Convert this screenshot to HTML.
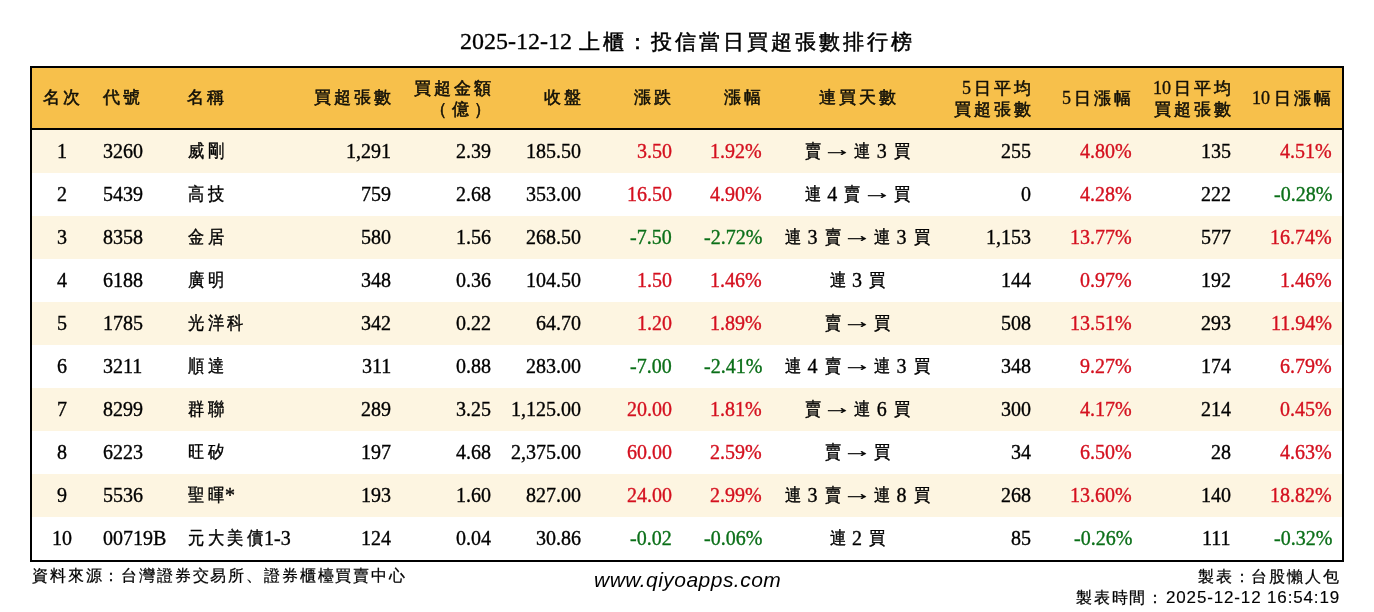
<!DOCTYPE html>
<html><head><meta charset="utf-8"><style>
html,body{margin:0;padding:0;background:#fff;width:1374px;height:612px;overflow:hidden;position:relative}
body{font-family:"Liberation Serif",serif;color:#000}
.title{-webkit-text-stroke:0.3px #000;will-change:transform;position:absolute;left:0;width:1374px;top:26px;text-align:center;font-size:24px;line-height:30px}
.tbl{position:absolute;left:30px;top:66px;width:1310px;height:492px;border:2px solid #000}
.hdr{position:absolute;left:30px;top:66px;width:1314px;height:64px}
.hfill{position:absolute;left:32px;top:68px;width:1310px;height:60px;background:#F7C04B}
.hline{position:absolute;left:30px;top:128px;width:1314px;height:2px;background:#000}
.row{position:absolute;left:32px;width:1310px;height:43px}
.cream{background:#FDF5E1}
.c{position:absolute;white-space:nowrap;will-change:transform}
.h{font-size:17px;letter-spacing:3px;color:#121008;-webkit-text-stroke:0.55px #121008}
.hd{font-size:18px;letter-spacing:0;margin-right:3px;-webkit-text-stroke:0.35px #1a1208}
.h1{top:68px;height:60px;line-height:60px}
.h2{top:78px;line-height:21px}
.d{font-size:20px;line-height:43px;-webkit-text-stroke:0.35px currentColor}
.r{color:#D4101F}.g{color:#0B6F18}
.d .k{font-size:18px;display:inline-block;width:19.5px;text-align:center;transform:translateY(-1px) scaleX(0.9);-webkit-text-stroke:0.4px #000}
.tk{font-size:21px;display:inline-block;width:24px;text-align:center;-webkit-text-stroke:0.5px #000}
.arr{display:inline-block;transform:translateY(-2px) scaleX(1.5)}
.foot{position:absolute;font-size:16px;white-space:nowrap;will-change:transform;-webkit-text-stroke:0.25px #000}
</style></head><body>
<div class="title">2025-12-12 <span class="tk">上</span><span class="tk">櫃</span><span class="tk">：</span><span class="tk">投</span><span class="tk">信</span><span class="tk">當</span><span class="tk">日</span><span class="tk">買</span><span class="tk">超</span><span class="tk">張</span><span class="tk">數</span><span class="tk">排</span><span class="tk">行</span><span class="tk">榜</span></div>
<div class="hfill"></div>

<div class="row cream" style="top:130px"></div>
<div class="row" style="top:173px"></div>
<div class="row cream" style="top:216px"></div>
<div class="row" style="top:259px"></div>
<div class="row cream" style="top:302px"></div>
<div class="row" style="top:345px"></div>
<div class="row cream" style="top:388px"></div>
<div class="row" style="top:431px"></div>
<div class="row cream" style="top:474px"></div>
<div class="row" style="top:517px"></div>
<div class="tbl"></div><div class="hline"></div>
<div class="c h h1" style="left:-87.5px;width:300px;text-align:center">名次</div>
<div class="c h h1" style="left:103px">代號</div>
<div class="c h h1" style="left:187px">名稱</div>
<div class="c h h1" style="margin-right:-3px;right:983px;text-align:right">買超張數</div>
<div class="c h h2" style="margin-right:-3px;right:883px;text-align:right">買超金額<br><span style="margin-right:-3px;letter-spacing:5px;margin-right:-2px">（億）</span></div>
<div class="c h h1" style="margin-right:-3px;right:793.5px;text-align:right">收盤</div>
<div class="c h h1" style="margin-right:-3px;right:703px;text-align:right">漲跌</div>
<div class="c h h1" style="margin-right:-3px;right:613px;text-align:right">漲幅</div>
<div class="c h h1" style="left:708.5px;width:300px;text-align:center">連買天數</div>
<div class="c h h2" style="margin-right:-3px;right:343px;text-align:right"><span class="hd">5</span>日平均<br>買超張數</div>
<div class="c h h1" style="margin-right:-3px;right:243.5px;text-align:right"><span class="hd">5</span>日漲幅</div>
<div class="c h h2" style="margin-right:-3px;right:143px;text-align:right"><span class="hd">10</span>日平均<br>買超張數</div>
<div class="c h h1" style="margin-right:-3px;right:43px;text-align:right"><span class="hd" style="margin-right:-3px;margin-right:4px">10</span>日漲幅</div>
<div class="c d " style="top:130px;left:-88px;width:300px;text-align:center">1</div>
<div class="c d " style="top:130px;left:103px">3260</div>
<div class="c d " style="top:130px;left:186px"><span class="k">威</span><span class="k">剛</span></div>
<div class="c d " style="top:130px;right:983px;text-align:right">1,291</div>
<div class="c d " style="top:130px;right:883px;text-align:right">2.39</div>
<div class="c d " style="top:130px;right:793px;text-align:right">185.50</div>
<div class="c d r" style="top:130px;right:702px;text-align:right">3.50</div>
<div class="c d r" style="top:130px;right:612px;text-align:right">1.92%</div>
<div class="c d " style="top:130px;left:707px;width:300px;text-align:center"><span class="k">賣</span> <span class="arr">→</span> <span class="k">連</span> 3 <span class="k">買</span></div>
<div class="c d " style="top:130px;right:343px;text-align:right">255</div>
<div class="c d r" style="top:130px;right:242px;text-align:right">4.80%</div>
<div class="c d " style="top:130px;right:143px;text-align:right">135</div>
<div class="c d r" style="top:130px;right:42px;text-align:right">4.51%</div>
<div class="c d " style="top:173px;left:-88px;width:300px;text-align:center">2</div>
<div class="c d " style="top:173px;left:103px">5439</div>
<div class="c d " style="top:173px;left:186px"><span class="k">高</span><span class="k">技</span></div>
<div class="c d " style="top:173px;right:983px;text-align:right">759</div>
<div class="c d " style="top:173px;right:883px;text-align:right">2.68</div>
<div class="c d " style="top:173px;right:793px;text-align:right">353.00</div>
<div class="c d r" style="top:173px;right:702px;text-align:right">16.50</div>
<div class="c d r" style="top:173px;right:612px;text-align:right">4.90%</div>
<div class="c d " style="top:173px;left:707px;width:300px;text-align:center"><span class="k">連</span> 4 <span class="k">賣</span> <span class="arr">→</span> <span class="k">買</span></div>
<div class="c d " style="top:173px;right:343px;text-align:right">0</div>
<div class="c d r" style="top:173px;right:242px;text-align:right">4.28%</div>
<div class="c d " style="top:173px;right:143px;text-align:right">222</div>
<div class="c d g" style="top:173px;right:42px;text-align:right">-0.28%</div>
<div class="c d " style="top:216px;left:-88px;width:300px;text-align:center">3</div>
<div class="c d " style="top:216px;left:103px">8358</div>
<div class="c d " style="top:216px;left:186px"><span class="k">金</span><span class="k">居</span></div>
<div class="c d " style="top:216px;right:983px;text-align:right">580</div>
<div class="c d " style="top:216px;right:883px;text-align:right">1.56</div>
<div class="c d " style="top:216px;right:793px;text-align:right">268.50</div>
<div class="c d g" style="top:216px;right:702px;text-align:right">-7.50</div>
<div class="c d g" style="top:216px;right:612px;text-align:right">-2.72%</div>
<div class="c d " style="top:216px;left:707px;width:300px;text-align:center"><span class="k">連</span> 3 <span class="k">賣</span> <span class="arr">→</span> <span class="k">連</span> 3 <span class="k">買</span></div>
<div class="c d " style="top:216px;right:343px;text-align:right">1,153</div>
<div class="c d r" style="top:216px;right:242px;text-align:right">13.77%</div>
<div class="c d " style="top:216px;right:143px;text-align:right">577</div>
<div class="c d r" style="top:216px;right:42px;text-align:right">16.74%</div>
<div class="c d " style="top:259px;left:-88px;width:300px;text-align:center">4</div>
<div class="c d " style="top:259px;left:103px">6188</div>
<div class="c d " style="top:259px;left:186px"><span class="k">廣</span><span class="k">明</span></div>
<div class="c d " style="top:259px;right:983px;text-align:right">348</div>
<div class="c d " style="top:259px;right:883px;text-align:right">0.36</div>
<div class="c d " style="top:259px;right:793px;text-align:right">104.50</div>
<div class="c d r" style="top:259px;right:702px;text-align:right">1.50</div>
<div class="c d r" style="top:259px;right:612px;text-align:right">1.46%</div>
<div class="c d " style="top:259px;left:707px;width:300px;text-align:center"><span class="k">連</span> 3 <span class="k">買</span></div>
<div class="c d " style="top:259px;right:343px;text-align:right">144</div>
<div class="c d r" style="top:259px;right:242px;text-align:right">0.97%</div>
<div class="c d " style="top:259px;right:143px;text-align:right">192</div>
<div class="c d r" style="top:259px;right:42px;text-align:right">1.46%</div>
<div class="c d " style="top:302px;left:-88px;width:300px;text-align:center">5</div>
<div class="c d " style="top:302px;left:103px">1785</div>
<div class="c d " style="top:302px;left:186px"><span class="k">光</span><span class="k">洋</span><span class="k">科</span></div>
<div class="c d " style="top:302px;right:983px;text-align:right">342</div>
<div class="c d " style="top:302px;right:883px;text-align:right">0.22</div>
<div class="c d " style="top:302px;right:793px;text-align:right">64.70</div>
<div class="c d r" style="top:302px;right:702px;text-align:right">1.20</div>
<div class="c d r" style="top:302px;right:612px;text-align:right">1.89%</div>
<div class="c d " style="top:302px;left:707px;width:300px;text-align:center"><span class="k">賣</span> <span class="arr">→</span> <span class="k">買</span></div>
<div class="c d " style="top:302px;right:343px;text-align:right">508</div>
<div class="c d r" style="top:302px;right:242px;text-align:right">13.51%</div>
<div class="c d " style="top:302px;right:143px;text-align:right">293</div>
<div class="c d r" style="top:302px;right:42px;text-align:right">11.94%</div>
<div class="c d " style="top:345px;left:-88px;width:300px;text-align:center">6</div>
<div class="c d " style="top:345px;left:103px">3211</div>
<div class="c d " style="top:345px;left:186px"><span class="k">順</span><span class="k">達</span></div>
<div class="c d " style="top:345px;right:983px;text-align:right">311</div>
<div class="c d " style="top:345px;right:883px;text-align:right">0.88</div>
<div class="c d " style="top:345px;right:793px;text-align:right">283.00</div>
<div class="c d g" style="top:345px;right:702px;text-align:right">-7.00</div>
<div class="c d g" style="top:345px;right:612px;text-align:right">-2.41%</div>
<div class="c d " style="top:345px;left:707px;width:300px;text-align:center"><span class="k">連</span> 4 <span class="k">賣</span> <span class="arr">→</span> <span class="k">連</span> 3 <span class="k">買</span></div>
<div class="c d " style="top:345px;right:343px;text-align:right">348</div>
<div class="c d r" style="top:345px;right:242px;text-align:right">9.27%</div>
<div class="c d " style="top:345px;right:143px;text-align:right">174</div>
<div class="c d r" style="top:345px;right:42px;text-align:right">6.79%</div>
<div class="c d " style="top:388px;left:-88px;width:300px;text-align:center">7</div>
<div class="c d " style="top:388px;left:103px">8299</div>
<div class="c d " style="top:388px;left:186px"><span class="k">群</span><span class="k">聯</span></div>
<div class="c d " style="top:388px;right:983px;text-align:right">289</div>
<div class="c d " style="top:388px;right:883px;text-align:right">3.25</div>
<div class="c d " style="top:388px;right:793px;text-align:right">1,125.00</div>
<div class="c d r" style="top:388px;right:702px;text-align:right">20.00</div>
<div class="c d r" style="top:388px;right:612px;text-align:right">1.81%</div>
<div class="c d " style="top:388px;left:707px;width:300px;text-align:center"><span class="k">賣</span> <span class="arr">→</span> <span class="k">連</span> 6 <span class="k">買</span></div>
<div class="c d " style="top:388px;right:343px;text-align:right">300</div>
<div class="c d r" style="top:388px;right:242px;text-align:right">4.17%</div>
<div class="c d " style="top:388px;right:143px;text-align:right">214</div>
<div class="c d r" style="top:388px;right:42px;text-align:right">0.45%</div>
<div class="c d " style="top:431px;left:-88px;width:300px;text-align:center">8</div>
<div class="c d " style="top:431px;left:103px">6223</div>
<div class="c d " style="top:431px;left:186px"><span class="k">旺</span><span class="k">矽</span></div>
<div class="c d " style="top:431px;right:983px;text-align:right">197</div>
<div class="c d " style="top:431px;right:883px;text-align:right">4.68</div>
<div class="c d " style="top:431px;right:793px;text-align:right">2,375.00</div>
<div class="c d r" style="top:431px;right:702px;text-align:right">60.00</div>
<div class="c d r" style="top:431px;right:612px;text-align:right">2.59%</div>
<div class="c d " style="top:431px;left:707px;width:300px;text-align:center"><span class="k">賣</span> <span class="arr">→</span> <span class="k">買</span></div>
<div class="c d " style="top:431px;right:343px;text-align:right">34</div>
<div class="c d r" style="top:431px;right:242px;text-align:right">6.50%</div>
<div class="c d " style="top:431px;right:143px;text-align:right">28</div>
<div class="c d r" style="top:431px;right:42px;text-align:right">4.63%</div>
<div class="c d " style="top:474px;left:-88px;width:300px;text-align:center">9</div>
<div class="c d " style="top:474px;left:103px">5536</div>
<div class="c d " style="top:474px;left:186px"><span class="k">聖</span><span class="k">暉</span>*</div>
<div class="c d " style="top:474px;right:983px;text-align:right">193</div>
<div class="c d " style="top:474px;right:883px;text-align:right">1.60</div>
<div class="c d " style="top:474px;right:793px;text-align:right">827.00</div>
<div class="c d r" style="top:474px;right:702px;text-align:right">24.00</div>
<div class="c d r" style="top:474px;right:612px;text-align:right">2.99%</div>
<div class="c d " style="top:474px;left:707px;width:300px;text-align:center"><span class="k">連</span> 3 <span class="k">賣</span> <span class="arr">→</span> <span class="k">連</span> 8 <span class="k">買</span></div>
<div class="c d " style="top:474px;right:343px;text-align:right">268</div>
<div class="c d r" style="top:474px;right:242px;text-align:right">13.60%</div>
<div class="c d " style="top:474px;right:143px;text-align:right">140</div>
<div class="c d r" style="top:474px;right:42px;text-align:right">18.82%</div>
<div class="c d " style="top:517px;left:-88px;width:300px;text-align:center">10</div>
<div class="c d " style="top:517px;left:103px">00719B</div>
<div class="c d " style="top:517px;left:186px"><span class="k">元</span><span class="k">大</span><span class="k">美</span><span class="k">債</span>1-3</div>
<div class="c d " style="top:517px;right:983px;text-align:right">124</div>
<div class="c d " style="top:517px;right:883px;text-align:right">0.04</div>
<div class="c d " style="top:517px;right:793px;text-align:right">30.86</div>
<div class="c d g" style="top:517px;right:702px;text-align:right">-0.02</div>
<div class="c d g" style="top:517px;right:612px;text-align:right">-0.06%</div>
<div class="c d " style="top:517px;left:707px;width:300px;text-align:center"><span class="k">連</span> 2 <span class="k">買</span></div>
<div class="c d " style="top:517px;right:343px;text-align:right">85</div>
<div class="c d g" style="top:517px;right:242px;text-align:right">-0.26%</div>
<div class="c d " style="top:517px;right:143px;text-align:right">111</div>
<div class="c d g" style="top:517px;right:42px;text-align:right">-0.32%</div>
<div class="foot" style="left:32px;top:566px;letter-spacing:1.85px">資料來源：台灣證券交易所、證券櫃檯買賣中心</div>
<div class="foot" style="left:594px;top:568px;font-family:'Liberation Sans',sans-serif;font-style:italic;font-size:21px;letter-spacing:0.47px;-webkit-text-stroke:0">www.qiyoapps.com</div>
<div class="foot" style="right:34px;top:567px;letter-spacing:1.8px">製表：台股懶人包</div>
<div class="foot" style="right:34px;top:587.5px;letter-spacing:1.8px;font-family:'Liberation Sans',sans-serif">製表時間：<span style="font-size:17px;letter-spacing:0.85px;margin-left:1px;-webkit-text-stroke:0.15px #000">2025-12-12 16:54:19</span></div>
</body></html>
